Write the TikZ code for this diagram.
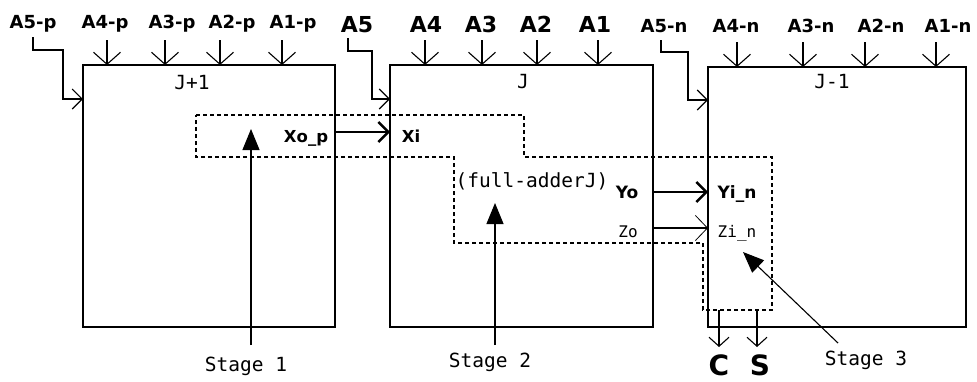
\documentclass[tikz,border=0pt]{standalone}
\usepackage{fontspec}
\setmainfont{DejaVu Sans}
\newfontfamily\monof{DejaVu Sans Mono}
\usetikzlibrary{arrows.meta}
\begin{document}
\begin{tikzpicture}[x=1pt,y=-1pt,
  box/.style={draw, line width=1.2pt, inner sep=0pt, outer sep=0pt, anchor=north west},
  labp/.style={font=\bfseries\fontsize{18}{18}\selectfont, anchor=base, inner sep=0pt},
  labj/.style={font=\bfseries\fontsize{22}{22}\selectfont, anchor=base, inner sep=0pt},
  labb/.style={font=\bfseries\fontsize{16.5}{16.5}\selectfont, anchor=base, inner sep=0pt},
  labm/.style={font=\monof\fontsize{19.5}{19.5}\selectfont, anchor=base, inner sep=0pt},
  labz/.style={font=\monof\fontsize{16}{16}\selectfont, anchor=base, inner sep=0pt},
  labcs/.style={font=\bfseries\fontsize{28}{28}\selectfont, anchor=base, inner sep=0pt},
  inarr/.style={line width=1.1pt, -{Straight Barb[length=12pt,width=27pt,line width=1.1pt]}},
  sidearr/.style={line width=1.1pt, -{Straight Barb[length=10pt,width=20pt,line width=1.1pt]}},
  thickarr/.style={line width=2.4pt, -{Straight Barb[length=10pt,width=20pt,line width=2.4pt]}},
  thinarr/.style={line width=1.1pt, -{Straight Barb[length=12pt,width=25pt,line width=0.8pt]}},
  outarr/.style={line width=1.1pt, -{Straight Barb[length=9pt,width=20pt,line width=1.1pt]}},
  stagearr/.style={line width=1.1pt, -{Triangle[length=21pt,width=17pt]}},
  dashbox/.style={line width=1.2pt, dash pattern=on 4pt off 3pt}
]
\useasboundingbox (0,0) rectangle (977,381);

% boxes
\node[box, minimum width=252pt, minimum height=262pt] (bJp) at (83,65) {};
\node[box, minimum width=263pt, minimum height=262pt] (bJ) at (390,65) {};
\node[box, minimum width=258pt, minimum height=260pt] (bJm) at (708,67) {};

% box titles
\node[labm] (tJp) at (192,89) {J+1};
\node[labm] (tJ) at (523,88) {J};
\node[labm] (tJm) at (832,88) {J-1};

% input labels
\node[labp] (l5p) at (33,28) {A5-p};
\node[labp] (l4p) at (105,28) {A4-p};
\node[labp] (l3p) at (172,28) {A3-p};
\node[labp] (l2p) at (232,28) {A2-p};
\node[labp] (l1p) at (293,28) {A1-p};
\node[labj] (l5) at (357,32) {A5};
\node[labj] (l4) at (426,32) {A4};
\node[labj] (l3) at (481,32) {A3};
\node[labj] (l2) at (536,32) {A2};
\node[labj] (l1) at (595,32) {A1};
\node[labp] (l5n) at (664,32) {A5-n};
\node[labp] (l4n) at (736,32) {A4-n};
\node[labp] (l3n) at (811,32) {A3-n};
\node[labp] (l2n) at (881,32) {A2-n};
\node[labp] (l1n) at (948,32) {A1-n};

% top input arrows
\foreach \n/\x in {4p/107,3p/165,2p/220,1p/282} {
  \coordinate (c\n) at (\x,40);
  \draw[inarr] (c\n) -- (c\n |- bJp.north);
}
\foreach \n/\x in {4/425,3/482,2/537,1/598} {
  \coordinate (c\n) at (\x,40);
  \draw[inarr] (c\n) -- (c\n |- bJ.north);
}
\foreach \n/\x in {4n/737,3n/803,2n/865,1n/936} {
  \coordinate (c\n) at (\x,42);
  \draw[inarr] (c\n) -- (c\n |- bJm.north);
}

% A5 side connectors
\coordinate (c5p) at (33,37);
\draw[sidearr] (c5p) -- (33,50) -- (63,50) -- (63,99) -- (bJp.west |- 0,99);
\coordinate (c5) at (348,38);
\draw[sidearr] (c5) -- (348,51) -- (372,51) -- (372,99) -- (bJ.west |- 0,99);
\coordinate (c5n) at (661,40);
\draw[sidearr] (c5n) -- (661,52) -- (688,52) -- (688,100) -- (bJm.west |- 0,100);

% dashed stage outline
\draw[dashbox] (196,115) -- (524,115) -- (524,157) -- (772,157) -- (772,310)
  -- (703,310) -- (703,243) -- (454,243) -- (454,157) -- (196,157) -- cycle;

% signals
\node[labb] (xop) at (306,142) {Xo\_p};
\node[labb] (xi) at (411,142) {Xi};
\draw[thickarr] (bJp.east |- 0,132) -- (bJ.west |- 0,132);

\node[labm] (fa) at (532,187) {(full-adderJ)};
\node[labb, font=\bfseries\fontsize{17}{17}\selectfont] (yo) at (627,198) {Yo};
\node[labb, font=\bfseries\fontsize{17}{17}\selectfont] (yin) at (737,198) {Yi\_n};
\draw[thickarr] (bJ.east |- 0,192) -- (bJm.west |- 0,192);

\node[labz] (zo) at (628,237) {Zo};
\node[labz] (zin) at (737,237) {Zi\_n};
\draw[thinarr] (bJ.east |- 0,228) -- (bJm.west |- 0,228);

% outputs
\coordinate (oc) at (719,310);
\coordinate (os) at (757,310);
\node[labcs] (lc) at (719,375) {C};
\node[labcs] (ls) at (760,375) {S};
\draw[outarr] (oc) -- (oc |- 0,347);
\draw[outarr] (os) -- (os |- 0,347);

% stages
\node[labm] (s1) at (246,371) {Stage 1};
\node[labm] (s2) at (490,367) {Stage 2};
\node[labm] (s3) at (866,365) {Stage 3};
\coordinate (s1a) at (251,345);
\coordinate (s2a) at (495,345);
\coordinate (s3a) at (838,343);
\draw[stagearr] (s1a) -- (251,129);
\draw[stagearr] (s2a) -- (495,203);
\draw[stagearr] (s3a) -- (743,252);
\end{tikzpicture}
\end{document}
